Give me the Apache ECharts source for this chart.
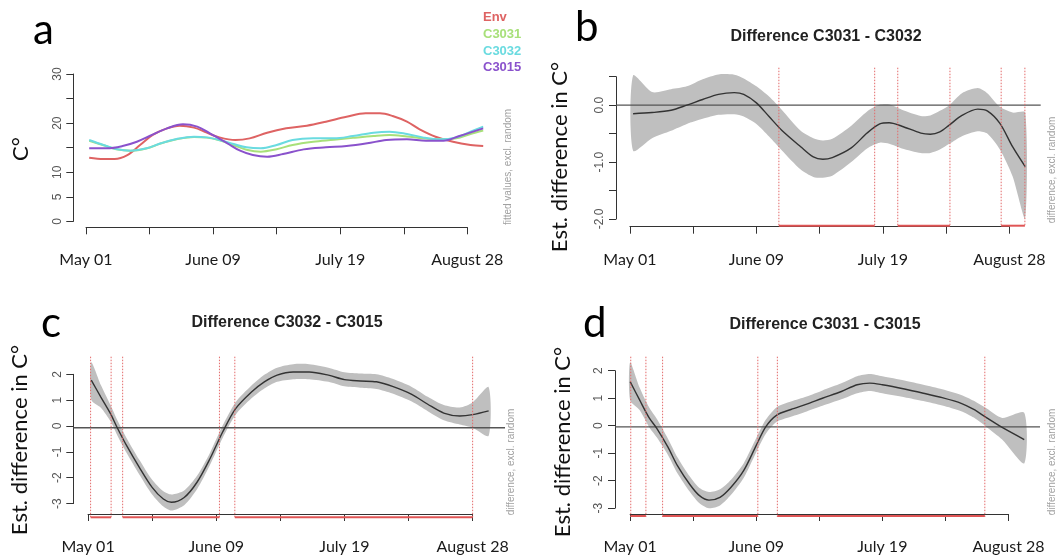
<!DOCTYPE html>
<html>
<head>
<meta charset="utf-8">
<title>Temperature differences</title>
<script src="https://cdn.jsdelivr.net/npm/echarts@6/dist/echarts.min.js"></script>
<style>
  html, body { margin: 0; padding: 0; background: #fff; }
  #chart { width: 1060px; height: 555px; }
</style>
</head>
<body>
<div id="chart"></div>
<script>
// x axis is day of year, labelled every 40 days
var tickLabels = { 120: 'May 01', 160: 'June 09', 200: 'July 19', 240: 'August 28' };

// panel a: fitted temperatures
var envDays  = [121, 125.5, 129, 133, 137, 141, 145.5, 149.5, 154, 158, 162, 167, 171.5, 177, 183, 189.5, 195.5, 202, 208, 212.5, 216.5, 221, 225, 230, 235.5, 241, 245];
var envTemp  = [12.97, 12.7, 12.7, 13.5, 15.55, 17.6, 18.94, 19.48, 19.08, 18.06, 17.1, 16.56, 16.9, 18.06, 18.94, 19.48, 20.3, 21.3, 22.0, 22.0, 21.45, 20.3, 18.74, 17.24, 16.2, 15.55, 15.34];
var camDays  = [121, 125.5, 129.5, 134, 139, 143.5, 148.5, 154, 158, 162, 166.5, 170.5, 175, 180, 185, 191.5, 198, 204, 210.5, 215.5, 221, 226, 231.5, 236.5, 241, 245];
var c3031Temp = [16.4, 15.5, 14.7, 14.4, 14.85, 15.85, 16.7, 17.2, 17.05, 16.5, 15.5, 14.6, 14.2, 14.7, 15.55, 16.2, 16.6, 17.0, 17.4, 17.6, 17.3, 16.9, 16.7, 16.9, 17.8, 18.5];
var c3032Temp = [16.56, 15.55, 14.73, 14.39, 14.87, 15.89, 16.77, 17.24, 17.1, 16.56, 15.75, 15.07, 14.87, 15.55, 16.56, 16.9, 16.9, 17.38, 18.06, 18.26, 17.79, 17.1, 16.7, 17.1, 18.26, 19.28];
var c3015Days = [121, 126.5, 131.5, 136, 140, 145.5, 150.5, 155, 159, 164.5, 168.5, 172.5, 177, 182, 188.5, 195.5, 202, 208.5, 214.5, 221, 227, 232.5, 237.5, 245];
var c3015Temp = [14.87, 14.87, 15.34, 16.22, 17.38, 18.94, 19.76, 19.28, 17.92, 15.89, 14.39, 13.51, 13.17, 13.71, 14.66, 15.07, 15.34, 15.89, 16.56, 16.7, 16.43, 16.43, 17.38, 18.94];

// panel b: C3031 - C3032
var bDays  = [121, 127, 133, 138, 143, 148, 153, 156, 160, 164, 168, 174, 178, 181, 184, 190, 195, 199, 202, 206, 212, 215, 218, 221, 225, 230, 233, 237, 241, 245];
var bFit   = [-0.15, -0.13, -0.09, 0.0, 0.1, 0.19, 0.22, 0.19, 0.04, -0.2, -0.44, -0.73, -0.91, -0.95, -0.92, -0.75, -0.49, -0.33, -0.31, -0.37, -0.49, -0.51, -0.47, -0.35, -0.18, -0.07, -0.1, -0.32, -0.73, -1.08];
var bUpper = [0.52, 0.23, 0.28, 0.33, 0.455, 0.54, 0.535, 0.47, 0.33, 0.15, -0.08, -0.45, -0.58, -0.62, -0.59, -0.36, -0.11, 0.01, 0.015, -0.08, -0.19, -0.18, -0.1, 0.0, 0.21, 0.3, 0.21, -0.03, -0.13, -0.13];
var bLower = [-0.8, -0.58, -0.45, -0.33, -0.24, -0.17, -0.16, -0.2, -0.33, -0.55, -0.79, -1.13, -1.26, -1.275, -1.24, -1.0, -0.76, -0.66, -0.68, -0.76, -0.84, -0.84, -0.78, -0.68, -0.545, -0.46, -0.5, -0.78, -1.25, -1.99];
var bSig   = [167.1, 197.4, 204.7, 221.2, 237.4, 244.9];

// panel c: C3032 - C3015
var cDays  = [121, 124, 127, 129, 132, 136, 140, 143.5, 146, 150, 154, 158, 162, 166, 171, 175, 179, 184, 189, 195, 200, 205, 210, 215, 221, 226, 231, 236, 240, 245];
var cFit   = [1.78, 1.15, 0.53, 0.03, -0.66, -1.48, -2.23, -2.67, -2.79, -2.61, -2.04, -1.17, -0.16, 0.71, 1.34, 1.72, 1.97, 2.09, 2.09, 1.97, 1.8, 1.75, 1.72, 1.55, 1.25, 0.88, 0.55, 0.44, 0.49, 0.63];
var cUpper = [2.45, 1.6, 0.85, 0.32, -0.38, -1.2, -1.95, -2.38, -2.5, -2.35, -1.8, -0.95, 0.08, 0.95, 1.58, 1.98, 2.25, 2.38, 2.38, 2.25, 2.08, 2.03, 2.0, 1.83, 1.53, 1.16, 0.85, 0.76, 0.95, 1.52];
var cLower = [1.05, 0.75, 0.25, -0.25, -0.94, -1.75, -2.5, -2.95, -3.1, -2.9, -2.3, -1.4, -0.38, 0.48, 1.1, 1.47, 1.72, 1.82, 1.82, 1.72, 1.55, 1.5, 1.45, 1.28, 0.98, 0.62, 0.28, 0.12, 0.0, -0.3];
var cSig   = [120.8, 127.2, 130.8, 161, 165.8, 240];

// panel d: C3031 - C3015
var dDays  = [120, 123, 126, 128.5, 132, 135, 139, 142, 145, 148.5, 152, 156, 160, 163, 166.5, 171, 176, 181, 187, 192, 196, 200, 207, 213, 219, 225, 229, 233, 238, 245];
var dFit   = [1.61, 0.96, 0.33, -0.06, -0.72, -1.38, -2.06, -2.45, -2.61, -2.51, -2.15, -1.56, -0.66, 0.0, 0.42, 0.62, 0.81, 1.02, 1.26, 1.5, 1.56, 1.5, 1.35, 1.2, 1.04, 0.84, 0.62, 0.33, -0.02, -0.45];
var dUpper = [2.3, 1.4, 0.7, 0.28, -0.42, -1.08, -1.78, -2.18, -2.32, -2.22, -1.88, -1.3, -0.4, 0.25, 0.7, 0.9, 1.08, 1.3, 1.55, 1.8, 1.88, 1.8, 1.65, 1.5, 1.34, 1.14, 0.93, 0.66, 0.32, 0.5];
var dLower = [0.95, 0.6, 0.0, -0.38, -1.0, -1.65, -2.32, -2.72, -2.9, -2.8, -2.42, -1.82, -0.9, -0.25, 0.18, 0.36, 0.55, 0.75, 0.98, 1.2, 1.28, 1.2, 1.06, 0.92, 0.76, 0.56, 0.33, 0.0, -0.45, -1.3];
var dSig   = [120.2, 125, 130.3, 160.5, 166.7, 232.5];

var chart = echarts.init(document.getElementById('chart'));

var LABEL_FONT = 'Lato';
var TICK_FONT = 'Liberation Sans';

function zip(xs, ys) {
  return xs.map(function (x, k) { return [x, ys[k]]; });
}

// Each panel = a plot-region grid (hidden axes, holds the marks) plus an
// overlay grid spanning only the tick range, carrying the visible R-style axes.
var grids = [], xAxes = [], yAxes = [], series = [];
function addPanel(p) {
  var gi = grids.length;
  grids.push({ left: p.left, top: p.top, width: p.right - p.left, height: p.bottom - p.top });
  xAxes.push({ gridIndex: gi, type: 'value', min: p.usrX[0], max: p.usrX[1], show: false });
  yAxes.push({ gridIndex: gi, type: 'value', min: p.usrY[0], max: p.usrY[1], show: false });

  // pixel spots of the first/last ticks inside the plot region
  var kx = (p.right - p.left) / (p.usrX[1] - p.usrX[0]);
  var ky = (p.bottom - p.top) / (p.usrY[1] - p.usrY[0]);
  var ax0 = p.left + (120 - p.usrX[0]) * kx, ax1 = p.left + (240 - p.usrX[0]) * kx;
  var ay1 = p.top + (p.usrY[1] - p.yMax) * ky, ay0 = p.top + (p.usrY[1] - p.yMin) * ky;
  grids.push({ left: ax0, top: ay1, width: ax1 - ax0, height: ay0 - ay1 });
  xAxes.push({
    gridIndex: gi + 1, type: 'value', min: 120, max: 240, interval: 20, offset: p.bottom - ay0,
    axisLine: { show: true, onZero: false, lineStyle: { color: '#333', width: 1 } },
    axisTick: { show: true, length: 7, lineStyle: { color: '#333' } },
    axisLabel: {
      margin: 25, fontFamily: LABEL_FONT, fontSize: 16, color: '#1a1a1a',
      formatter: function (v) { return tickLabels[v] || ''; }
    },
    splitLine: { show: false }
  });
  yAxes.push({
    gridIndex: gi + 1, type: 'value', min: p.yMin, max: p.yMax, interval: p.yStep, offset: ax0 - p.left,
    axisLine: { show: true, onZero: false, lineStyle: { color: '#333', width: 1 } },
    axisTick: { show: true, length: 7, lineStyle: { color: '#333' } },
    axisLabel: {
      rotate: 90, margin: 10, fontFamily: TICK_FONT, fontSize: 12, color: '#555',
      formatter: p.yFmt
    },
    splitLine: { show: false }
  });
  return gi;
}

function addDiff(gi, p, days, fit, upper, lower, sig) {
  // confidence band as one polygon
  series.push({
    type: 'custom', xAxisIndex: gi, yAxisIndex: gi, silent: true, z: 1,
    data: days.map(function (d, k) { return [d, lower[k], upper[k]]; }),
    renderItem: function (params, api) {
      if (params.dataIndex !== 0) return null;
      var pts = [], k;
      for (k = 0; k < days.length; k++) pts.push(api.coord([days[k], upper[k]]));
      for (k = days.length - 1; k >= 0; k--) pts.push(api.coord([days[k], lower[k]]));
      return { type: 'polygon', shape: { points: pts, smooth: 0.25 },
        style: { fill: '#bfbfbf', stroke: 'none' } };
    }
  });
  // zero line across the plot region
  series.push({
    type: 'line', xAxisIndex: gi, yAxisIndex: gi, data: [[p.usrX[0], 0], [p.usrX[1], 0]],
    symbol: 'none', lineStyle: { color: '#555', width: 1.3 }, silent: true, z: 2
  });
  series.push({
    type: 'line', xAxisIndex: gi, yAxisIndex: gi, data: zip(days, fit),
    symbol: 'none', smooth: 0.3, lineStyle: { color: '#333', width: 1.4 }, silent: true, z: 3
  });
  // dotted red boundaries of the significant windows
  series.push({
    type: 'custom', xAxisIndex: gi, yAxisIndex: gi, silent: true, z: 4,
    data: sig.map(function (s) { return [s, p.usrY[0]]; }),
    renderItem: function (params, api) {
      var a = api.coord([api.value(0), p.usrY[1]]);
      var b = api.coord([api.value(0), p.usrY[0]]);
      return { type: 'line', shape: { x1: a[0], y1: a[1], x2: b[0], y2: b[1] },
        style: { stroke: '#e36a6a', lineWidth: 1, lineDash: [1.5, 1.5] } };
    }
  });
  // solid red bars along the bottom between boundary pairs
  var pairs = [];
  for (var k = 0; k < sig.length; k += 2) pairs.push([sig[k], sig[k + 1]]);
  series.push({
    type: 'custom', xAxisIndex: gi, yAxisIndex: gi, silent: true, z: 4,
    data: pairs,
    renderItem: function (params, api) {
      var a = api.coord([api.value(0), p.usrY[0]]);
      var b = api.coord([api.value(1), p.usrY[0]]);
      return { type: 'line', shape: { x1: a[0], y1: a[1] - 1, x2: b[0], y2: b[1] - 1 },
        style: { stroke: '#e05555', lineWidth: 2 } };
    }
  });
}

// panel a
var pa = { left: 73.3, right: 499.1, top: 68.1, bottom: 227.3, usrX: [116, 250], usrY: [-1.2, 31.2],
  yMin: 0, yMax: 30, yStep: 5,
  yFmt: function (v) { return [0, 5, 10, 20, 30].indexOf(v) >= 0 ? String(v) : ''; } };
var ga = addPanel(pa);
var tempSeries = [
  { name: 'Env', days: envDays, vals: envTemp, color: '#de6363' },
  { name: 'C3031', days: camDays, vals: c3031Temp, color: '#a8e07a' },
  { name: 'C3032', days: camDays, vals: c3032Temp, color: '#6adbe0' },
  { name: 'C3015', days: c3015Days, vals: c3015Temp, color: '#8a52cc' }
];
tempSeries.forEach(function (s) {
  series.push({
    type: 'line', name: s.name, xAxisIndex: ga, yAxisIndex: ga, data: zip(s.days, s.vals),
    symbol: 'none', smooth: 0.35, lineStyle: { color: s.color, width: 2 }, silent: true
  });
});

// panel b
var pb = { left: 616, right: 1040.7, top: 67.7, bottom: 226.7, usrX: [115.6, 249.9], usrY: [-2.135, 0.658],
  yMin: -2, yMax: 0.5, yStep: 0.5,
  yFmt: function (v) { return v === 0 ? '0.0' : v === -1 ? '-1.0' : v === -2 ? '-2.0' : ''; } };
addDiff(addPanel(pb), pb, bDays, bFit, bUpper, bLower, bSig);

// panel c
var pc = { left: 73.3, right: 505, top: 356.7, bottom: 518.3, usrX: [115.4, 250.1], usrY: [-3.39, 2.66],
  yMin: -3, yMax: 2, yStep: 1, yFmt: function (v) { return String(v); } };
addDiff(addPanel(pc), pc, cDays, cFit, cUpper, cLower, cSig);

// panel d
var pd = { left: 615, right: 1040, top: 356.7, bottom: 517, usrX: [115.2, 250], usrY: [-3.21, 2.5],
  yMin: -3, yMax: 2, yStep: 1, yFmt: function (v) { return String(v); } };
addDiff(addPanel(pd), pd, dDays, dFit, dUpper, dLower, dSig);

function txt(x, y, text, style, rot) {
  return {
    type: 'text', x: x, y: y, rotation: rot || 0, silent: true,
    style: Object.assign({ text: text, align: 'center', verticalAlign: 'middle', fill: '#111' }, style)
  };
}
var letter = { font: '42px Lato', align: 'left', verticalAlign: 'top', fill: '#000' };
var ttl = { font: 'bold 16px "Liberation Sans"', fill: '#222' };
var yName = { font: '22px Lato', fill: '#111' };
var note = { font: '10px "Liberation Sans"', fill: '#a0a0a0' };
var leg = { font: 'bold 13px "Liberation Sans"', align: 'left' };
var R90 = Math.PI / 2;

var graphics = [
  txt(33, 9, 'a', letter), txt(575, 6, 'b', letter),
  txt(41, 302, 'c', letter), txt(583, 302, 'd', letter),
  txt(826, 37, 'Difference C3031 - C3032', ttl),
  txt(287, 323, 'Difference C3032 - C3015', ttl),
  txt(825, 325, 'Difference C3031 - C3015', ttl),
  txt(21, 149, 'C°', yName, R90),
  txt(560, 157, 'Est. difference in C°', yName, R90),
  txt(20, 440, 'Est. difference in C°', yName, R90),
  txt(563, 442, 'Est. difference in C°', yName, R90),
  txt(508, 167, 'fitted values, excl. random', note, R90),
  txt(1052, 170, 'difference, excl. random', note, R90),
  txt(511, 462, 'difference, excl. random', note, R90),
  txt(1052, 462, 'difference, excl. random', note, R90)
];
tempSeries.forEach(function (s, k) {
  graphics.push(txt(483, [17.5, 34.5, 51, 67.5][k], s.name, Object.assign({ fill: s.color }, leg)));
});

chart.setOption({
  animation: false,
  backgroundColor: '#fff',
  grid: grids,
  xAxis: xAxes,
  yAxis: yAxes,
  series: series,
  graphic: graphics
});
</script>
</body>
</html>
